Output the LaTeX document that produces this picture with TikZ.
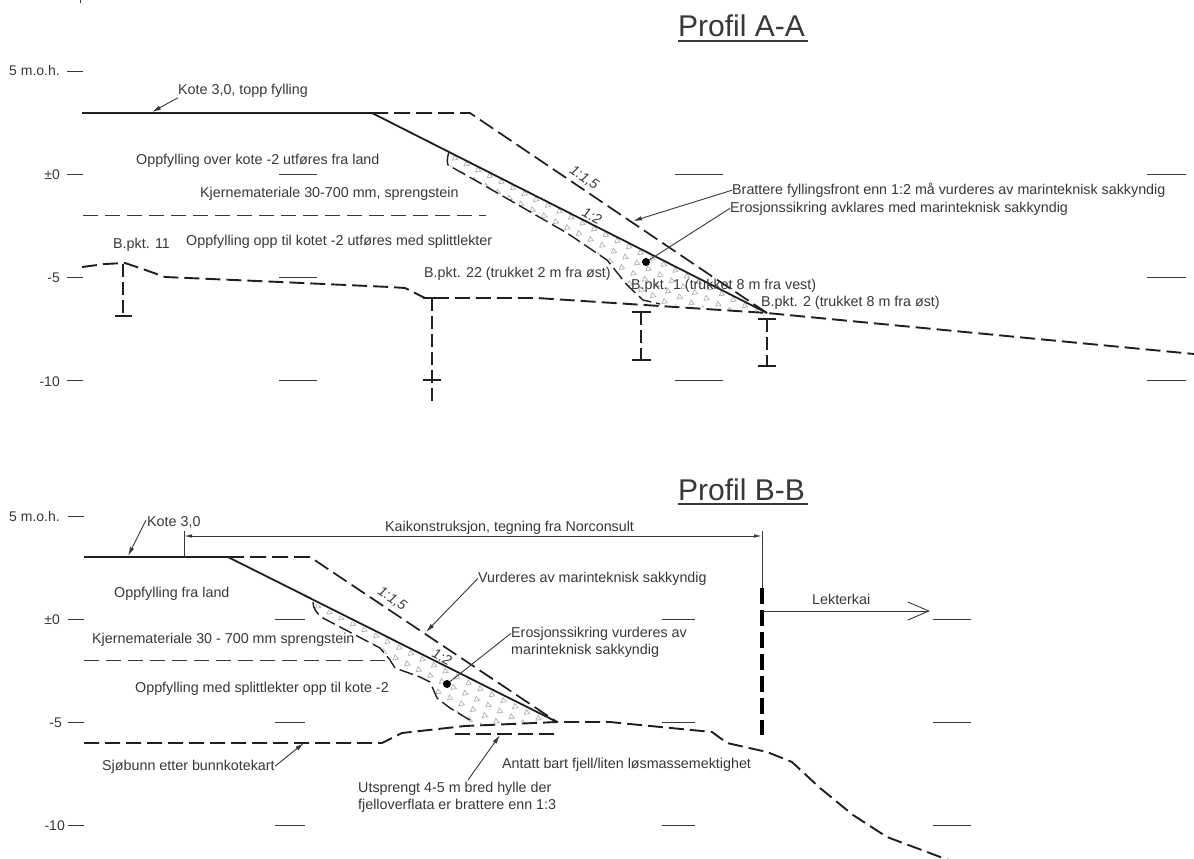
\documentclass[tikz,border=0pt]{standalone}
\usepackage{fontspec}
\setmainfont{Liberation Sans}
\usetikzlibrary{arrows.meta}
\definecolor{ink}{gray}{0.22}
\definecolor{lineink}{gray}{0.12}
\tikzset{
  txt/.style={inner sep=0pt,anchor=base west,text=ink,font=\fontsize{14.3}{16}\selectfont},
  lab/.style={inner sep=0pt,anchor=base east,text=ink,font=\fontsize{14}{16}\selectfont},
  ttl/.style={inner sep=0pt,anchor=base west,text=ink,font=\fontsize{30}{32}\selectfont},
  slopetxt/.style={inner sep=0pt,text=ink,font=\itshape\fontsize{14}{16}\selectfont},
  tick/.style={draw=ink,line width=0.9pt},
  thick solid/.style={draw=lineink,line width=2.1pt},
  slope solid/.style={draw=lineink,line width=1.8pt},
  long dash/.style={draw=lineink,line width=1.7pt,dash pattern=on 16pt off 6pt},
  ground/.style={draw=lineink,line width=1.9pt,dash pattern=on 15pt off 6pt,line join=round},
  level dash/.style={draw=ink,line width=0.9pt,dash pattern=on 15pt off 7pt},
  erosion/.style={draw=lineink,line width=1.4pt,dash pattern=on 14pt off 5pt,line join=round},
  hole/.style={draw=lineink,line width=1.4pt,dash pattern=on 13pt off 5pt},
  bar/.style={draw=lineink,line width=1.4pt},
  lead/.style={draw=ink,line width=0.9pt,-{Latex[length=9pt,width=4.5pt]}},
  plainlead/.style={draw=ink,line width=0.9pt},
  tri/.style={draw=gray!60,line width=0.7pt},
  quay/.style={draw=black,line width=3.4pt,dash pattern=on 16pt off 6pt},
}
\newcommand{\triangles}[2]{%
  \foreach \i in {-4,...,36}{\foreach \j in {-3,...,10}{%
    \pgfmathsetmacro{\px}{#1+\i*11.6-\j*3.6}%
    \pgfmathsetmacro{\py}{#2+\i*5.9+\j*10.4}%
    \draw[tri] (\px-2.6,\py+2.2) -- (\px+2.8,\py+1.4) -- (\px-0.6,\py-2.8) -- cycle;%
  }}}
\begin{document}
\begin{tikzpicture}[x=1pt,y=-1pt]
\useasboundingbox (0,0) rectangle (1194,859);
\fill[white] (0,0) rectangle (1194,859);
\coordinate (mark1) at (80,0); \coordinate (mark2) at (80,3);
\draw[tick] (mark1) -- (mark2);

% ---------- Profil A-A ----------
\node[ttl] (tA) at (678,37) {Profil A-A};
\draw[draw=ink,line width=1.1pt] (tA.base west)++(0,4) -- ++(130,0);

\node[lab] (a5) at (60,76) {5 m.o.h.};
\node[lab] (a0) at (60,179) {±0};
\node[lab] (am5) at (60,282) {-5};
\node[lab] (am10) at (60,386) {-10};
\foreach \y in {71.5,174.5,277.5,380.5}{\draw[tick] (67,\y) -- (83,\y);}
\foreach \y in {174.5,277.5,380.5}{
  \draw[tick] (279,\y) -- (317,\y);
  \draw[tick] (1147,\y) -- (1186,\y);
}
\draw[tick] (675,174.5) -- (723,174.5);
\draw[tick] (675,380.5) -- (723,380.5);

\begin{scope}
\clip (449,152) -- (448,165) -- (480,183) -- (567,233) -- (607,260) -- (627,285) -- (643,300) -- (660,304) -- (767,313) -- cycle;
\triangles{455}{158}
\end{scope}

\coordinate (Atop) at (372,113);
\coordinate (Adash) at (470,113);
\coordinate (Atoe) at (767,313);
\coordinate (Akink) at (713,277);
\draw[thick solid] (82,113) -- (Atop);
\draw[long dash] (Atop) -- (Adash) -- (Akink) -- (Atoe);
\draw[slope solid] (Atop) -- (Atoe);
\draw[level dash] (83,215.5) -- (486,215.5);
\draw[ground] (82,267) -- (105,264) -- (125,263) -- (140,268) -- (165,277) -- (280,282) -- (390,287) -- (405,288) -- (425,298) -- (537,298) -- (Atoe) -- (1194,354);
\draw[erosion] (449,152) .. controls (447,158) and (447,162) .. (448,165) -- (480,183) -- (567,233) -- (607,260) -- (627,285) -- (643,300) -- (660,304);

% boreholes A
\draw[hole] (123,264) -- (123,316);
\draw[bar] (115,316) -- (132,316);
\draw[hole] (432,298) -- (432,403);
\draw[bar] (423,380) -- (441,380);
\draw[bar] (423,298) -- (441,298);
\draw[bar] (632,312) -- (651,312);
\draw[hole] (641,312) -- (641,360);
\draw[bar] (632,360) -- (651,360);
\draw[bar] (758,319) -- (776,319);
\draw[hole] (767,319) -- (767,366);
\draw[bar] (758,366) -- (776,366);

\node[txt] (kA) at (178,94.5) {Kote 3,0, topp fylling};
\coordinate (kAend) at (152,112);
\draw[lead] (kA.south west) -- (kAend);
\node[txt] (oA) at (136,164) {Oppfylling over kote -2 utføres fra land};
\node[txt] (jA) at (200,197) {Kjernemateriale 30-700 mm, sprengstein};
\node[txt] (sA) at (186,245) {Oppfylling opp til kotet -2 utføres med splittlekter};
\node[txt] (b11) at (113,248) {B.pkt. 11};
\node[txt] (b22) at (424,277) {B.pkt. 22 (trukket 2 m fra øst)};
\node[txt] (b1) at (631,289) {B.pkt. 1 (trukket 8 m fra vest)};
\node[txt] (b2) at (761,306) {B.pkt. 2 (trukket 8 m fra øst)};
\node[slopetxt,rotate=-34] (s15A) at (584,178) {1:1,5};
\node[slopetxt,rotate=-27] (s2A) at (592,216) {1:2};
\node[txt] (brA) at (732,194.5) {Brattere fyllingsfront enn 1:2 må vurderes av marinteknisk sakkyndig};
\node[txt] (erA) at (730,212) {Erosjonssikring avklares med marinteknisk sakkyndig};
\coordinate (brAend) at (633,221);
\draw[lead] (brA.west) -- (brAend);
\node[circle,fill=black,inner sep=0pt,minimum size=8pt] (dotA) at (646,262) {};
\draw[plainlead] (erA.west) -- (dotA);

% ---------- Profil B-B ----------
\node[ttl] (tB) at (678,500) {Profil B-B};
\draw[draw=ink,line width=1.1pt] (tB.base west)++(0,4) -- ++(130,0);

\node[lab] (b5) at (60,521) {5 m.o.h.};
\node[lab] (b0) at (60,624) {±0};
\node[lab] (bm5) at (62,727) {-5};
\node[lab] (bm10) at (65,830) {-10};
\foreach \y in {516,619,722,825}{\draw[tick] (68,\y) -- (84,\y);}
\foreach \y in {619,722,825}{
  \draw[tick] (275,\y) -- (305,\y);
  \draw[tick] (662,\y) -- (695,\y);
  \draw[tick] (933,\y) -- (971,\y);
}

\begin{scope}
\clip (313,602) -- (315,610) -- (323,618) -- (380,648) -- (390,660) -- (395,668) -- (420,677) -- (430,682) -- (437,698) -- (450,708) -- (473,724) -- (555,722) -- cycle;
\triangles{318}{606}
\end{scope}

\coordinate (Btop) at (228,557);
\coordinate (Bdash) at (310,557);
\coordinate (Btoe) at (557,722);
\draw[thick solid] (84,557) -- (Btop);
\draw[long dash] (Btop) -- (Bdash) -- (Btoe);
\draw[slope solid] (Btop) -- (Btoe);
\draw[level dash] (84,660.5) -- (385,660.5);
\draw[ground] (84,743) -- (382,743) -- (402,733) -- (465,726) -- (Btoe) -- (610,722) -- (640,725) -- (712,732) -- (727,743) -- (767,752) -- (792,762) -- (820,788) -- (853,815) -- (887,837) -- (943,858) -- (965,866);
\draw[erosion] (313,602) .. controls (313,608) and (316,613) .. (323,618) -- (380,648) -- (390,660) -- (395,668) -- (420,677) -- (430,682) -- (437,698) -- (450,708) -- (473,722);
\draw[ground] (455,734) -- (557,734);

\node[txt] (kB) at (147,526) {Kote 3,0};
\coordinate (kBstart) at (146,520);
\coordinate (kBend) at (128,556);
\draw[lead] (kBstart) -- (kBend);
\node[txt] (kai) at (385,531) {Kaikonstruksjon, tegning fra Norconsult};
\coordinate (kaiL) at (184,536);
\coordinate (kaiR) at (762,536);
\draw[draw=ink,line width=0.9pt,{Latex[length=8pt,width=3.5pt]}-{Latex[length=8pt,width=3.5pt]}] (kaiL) -- (kaiR);
\coordinate (kaiLt) at (184,531); \coordinate (kaiLb) at (184,557);
\draw[plainlead] (kaiLt) -- (kaiLb);
\coordinate (qt) at (762,531); \coordinate (qm) at (762,588); \coordinate (qb) at (762,735);
\draw[plainlead] (qt) -- (qm);
\draw[quay] (qm) -- (qb);
\node[txt] (lek) at (812,604) {Lekterkai};
\coordinate (lekS) at (762,611); \coordinate (lekE) at (930,611);
\draw[draw=ink,line width=0.9pt,-{Straight Barb[length=21pt,width=18pt,line width=0.9pt]}] (lekS) -- (lekE);

\node[txt] (oB) at (114,597) {Oppfylling fra land};
\node[txt] (jB) at (92,643) {Kjernemateriale 30 - 700 mm sprengstein};
\node[txt] (sB) at (135,692) {Oppfylling med splittlekter opp til kote -2};
\node[txt] (sjo) at (102,770) {Sjøbunn etter bunnkotekart};
\coordinate (sjoE) at (304,743);
\draw[lead] (sjo.east) -- (sjoE);
\node[txt] (ant) at (502,768) {Antatt bart fjell/liten løsmassemektighet};
\node[txt] (ut1) at (358,792) {Utsprengt 4-5 m bred hylle der};
\node[txt] (ut2) at (358,809) {fjelloverflata er brattere enn 1:3};
\coordinate (utS) at (468,780); \coordinate (utE) at (500,735);
\draw[lead] (utS) -- (utE);
\node[slopetxt,rotate=-34] (s15B) at (392,599) {1:1,5};
\node[slopetxt,rotate=-27] (s2B) at (442,657) {1:2};
\node[txt] (vB) at (478,582) {Vurderes av marinteknisk sakkyndig};
\coordinate (vBE) at (426,632);
\draw[lead] (vB.west) -- (vBE);
\node[txt] (e1B) at (511,637) {Erosjonssikring vurderes av};
\node[txt] (e2B) at (511,654) {marinteknisk sakkyndig};
\node[circle,fill=black,inner sep=0pt,minimum size=8pt] (dotB) at (447,684) {};
\draw[plainlead] (e1B.west) -- (dotB);
\end{tikzpicture}
\end{document}
